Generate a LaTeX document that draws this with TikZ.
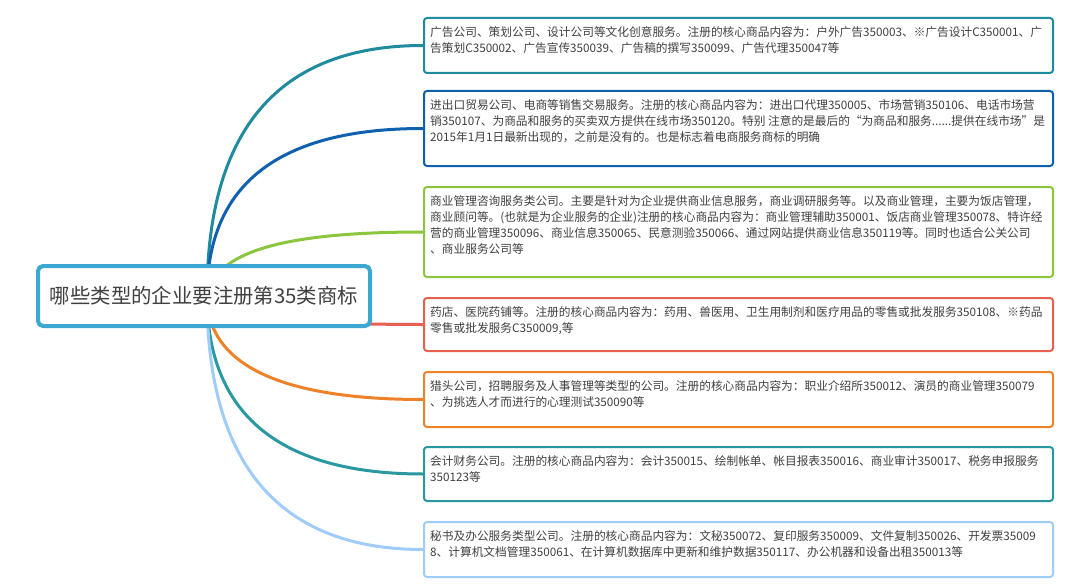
\documentclass[tikz,border=0pt]{standalone}
\usepackage{fontspec}
\newfontfamily\cjk{Noto Sans CJK SC}
\definecolor{c1}{RGB}{32,139,158}
\definecolor{c2}{RGB}{16,96,176}
\definecolor{c3}{RGB}{140,198,63}
\definecolor{c4}{RGB}{232,96,80}
\definecolor{c5}{RGB}{238,130,40}
\definecolor{c6}{RGB}{42,152,160}
\definecolor{c7}{RGB}{160,204,250}
\definecolor{cmain}{RGB}{58,168,208}
\definecolor{txtgray}{RGB}{64,64,64}
\begin{document}
\begin{tikzpicture}[x=1pt,y=-1pt,
  box/.style={draw, line width=2pt, rounded corners=3pt, fill=white, minimum width=629pt, anchor=north west, inner sep=0pt},
  txt/.style={anchor=north west, inner sep=0pt, align=left, font=\cjk\fontsize{11.7}{16}\selectfont, text=txtgray},
  link/.style={line width=3pt},
]
\useasboundingbox (0,0) rectangle (1080,586);
\fill[white] (0,0) rectangle (1080,586);

\node[box, draw=c1, minimum height=55pt] (b1) at (423,17) {};
\node[box, draw=c2, minimum height=75pt] (b2) at (423,90) {};
\node[box, draw=c3, minimum height=90pt] (b3) at (423,186) {};
\node[box, draw=c4, minimum height=53pt] (b4) at (423,297) {};
\node[box, draw=c5, minimum height=55pt] (b5) at (423,371) {};
\node[box, draw=c6, minimum height=54pt] (b6) at (423,446) {};
\node[box, draw=c7, minimum height=55pt] (b7) at (423,521) {};

\node[txt] (t1) at (430,26) {广告公司、策划公司、设计公司等文化创意服务。注册的核心商品内容为：户外广告350003、※广告设计C350001、广\\告策划C350002、广告宣传350039、广告稿的撰写350099、广告代理350047等};
\node[txt] (t2) at (430,99) {进出口贸易公司、电商等销售交易服务。注册的核心商品内容为：进出口代理350005、市场营销350106、电话市场营\\销350107、为商品和服务的买卖双方提供在线市场350120。特别 注意的是最后的“为商品和服务......提供在线市场”是\\2015年1月1日最新出现的，之前是没有的。也是标志着电商服务商标的明确};
\node[txt] (t3) at (430,195) {商业管理咨询服务类公司。主要是针对为企业提供商业信息服务，商业调研服务等。以及商业管理，主要为饭店管理，\\商业顾问等。(也就是为企业服务的企业)注册的核心商品内容为：商业管理辅助350001、饭店商业管理350078、特许经\\营的商业管理350096、商业信息350065、民意测验350066、通过网站提供商业信息350119等。同时也适合公关公司\\、商业服务公司等};
\node[txt] (t4) at (430,306) {药店、医院药铺等。注册的核心商品内容为：药用、兽医用、卫生用制剂和医疗用品的零售或批发服务350108、※药品\\零售或批发服务C350009,等};
\node[txt] (t5) at (430,380) {猎头公司，招聘服务及人事管理等类型的公司。注册的核心商品内容为：职业介绍所350012、演员的商业管理350079\\、为挑选人才而进行的心理测试350090等};
\node[txt] (t6) at (430,455) {会计财务公司。注册的核心商品内容为：会计350015、绘制帐单、帐目报表350016、商业审计350017、税务申报服务\\350123等};
\node[txt] (t7) at (430,530) {秘书及办公服务类型公司。注册的核心商品内容为：文秘350072、复印服务350009、文件复制350026、开发票35009\\8、计算机文档管理350061、在计算机数据库中更新和维护数据350117、办公机器和设备出租350013等};

\coordinate (root) at (207,296);
\draw[link, c1] (root) .. controls +(0,-167) and +(-144,0) .. (b1.west);
\draw[link, c2] (root) .. controls +(0,-112) and +(-144,0) .. (b2.west);
\draw[link, c3] (root) .. controls +(8,-43) and +(-144,0) .. (b3.west);
\draw[link, c4] (root) .. controls +(0,18) and +(-144,0) .. (b4.west);
\draw[link, c5] (root) .. controls +(0,68) and +(-144,0) .. (b5.west);
\draw[link, c6] (root) .. controls +(0,118) and +(-144,0) .. (b6.west);
\draw[link, c7] (root) .. controls +(0,168) and +(-144,0) .. (b7.west);

\node[draw=cmain, line width=4pt, rounded corners=5pt, fill=white, minimum width=332pt, minimum height=60pt, font=\cjk\fontsize{20.4}{24}\selectfont, text=txtgray] (main) at (204,296) {哪些类型的企业要注册第35类商标};
\end{tikzpicture}
\end{document}
